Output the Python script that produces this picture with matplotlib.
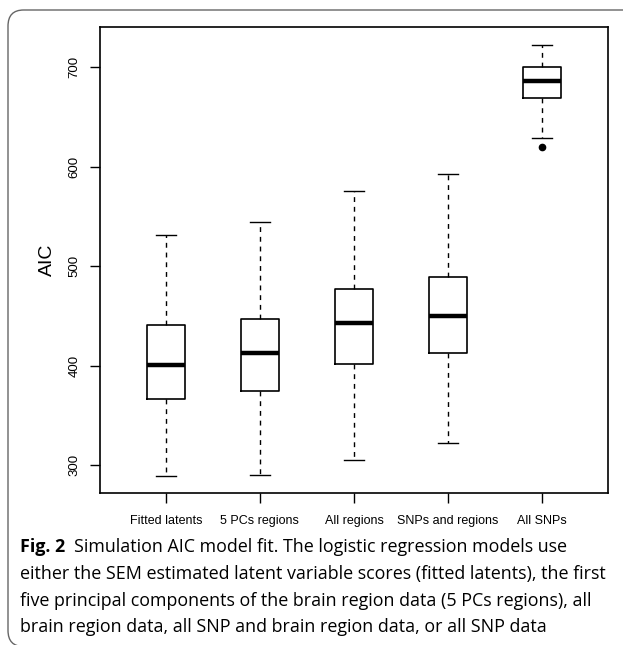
import matplotlib
matplotlib.use("Agg")
import matplotlib.pyplot as plt
from matplotlib.patches import FancyBboxPatch

categories = ["Fitted latents", "5 PCs regions", "All regions", "SNPs and regions", "All SNPs"]
whislo = [288.8, 289.8, 305.0, 322.0, 629.2]
q1 = [366.3, 374.6, 401.5, 412.6, 668.8]
med = [400.8, 412.3, 442.8, 449.8, 686.5]
q3 = [440.4, 447.1, 476.7, 488.7, 700.6]
whishi = [531.3, 544.0, 575.6, 593.0, 722.7]
fliers = [[], [], [], [], [619.8]]
yticks = [300, 400, 500, 600, 700]

caption_lines = [
    "either the SEM estimated latent variable scores (fitted latents), the first",
    "five principal components of the brain region data (5 PCs regions), all",
    "brain region data, all SNP and brain region data, or all SNP data",
]
caption_bold = "Fig. 2"
caption_first = "Simulation AIC model fit. The logistic regression models use"

W, H = 623, 645
fig = plt.figure(figsize=(W / 100, H / 100), dpi=100)

# outer rounded frame (bottom and right edges fall outside the image)
frame = FancyBboxPatch((8 / W, -1.5 / H), 700 / W, (H - 10 + 1.5) / H,
                       boxstyle="round,pad=0,rounding_size=0.025",
                       transform=fig.transFigure, fill=False,
                       edgecolor="#666666", linewidth=1.0, clip_on=False)
fig.patches.append(frame)

ax = fig.add_axes([100 / W, 1 - 493 / H, 508 / W, (493 - 26.7) / H])

stats = []
for i, c in enumerate(categories):
    stats.append(dict(label=c, whislo=whislo[i], q1=q1[i], med=med[i], q3=q3[i],
                      whishi=whishi[i], fliers=fliers[i]))

ax.bxp(stats, positions=range(1, len(categories) + 1), widths=0.40,
       showfliers=True, patch_artist=False,
       boxprops=dict(color="black", linewidth=1.2),
       medianprops=dict(color="black", linewidth=3.2, solid_capstyle="butt"),
       whiskerprops=dict(color="black", linewidth=1.0, linestyle=(0, (3.5, 3.5))),
       capprops=dict(color="black", linewidth=1.0),
       capwidths=0.21,
       flierprops=dict(marker="o", markerfacecolor="black", markeredgecolor="black",
                       markersize=4.5))

ax.set_xlim(0.3, 5.7)
ax.set_ylim(271.8, 740.8)
ax.set_yticks(yticks)
ax.set_yticklabels([str(v) for v in yticks], rotation=90, va="center",
                   fontsize=9.5, family="Liberation Sans")
ax.set_xticks(range(1, len(categories) + 1))
ax.set_xticklabels(categories, fontsize=9, family="Liberation Sans")
ax.tick_params(axis="both", direction="out", length=7, width=1.0, color="black")
ax.tick_params(axis="y", pad=7)
ax.tick_params(axis="x", pad=9)
for s in ax.spines.values():
    s.set_linewidth(1.2)
ax.set_ylabel("AIC", fontsize=14, family="Liberation Sans", labelpad=9)

# caption
cap_font = "Open Sans"
cap_size = 12.9
x0 = 20 / W
y1 = 547
dy = 26.8
t = fig.text(x0, 1 - y1 / H, caption_bold, fontsize=cap_size, family=cap_font,
             fontweight="bold", va="center", ha="left")
fig.canvas.draw()
r = fig.canvas.get_renderer()
bb = t.get_window_extent(renderer=r)
fig.text(bb.x1 / W + 9 / W, 1 - y1 / H, caption_first, fontsize=cap_size,
         family=cap_font, va="center", ha="left")
for k, line in enumerate(caption_lines):
    fig.text(x0, 1 - (y1 + dy * (k + 1)) / H, line, fontsize=cap_size, family=cap_font,
             va="center", ha="left")

fig.savefig("out.png", dpi=100)
